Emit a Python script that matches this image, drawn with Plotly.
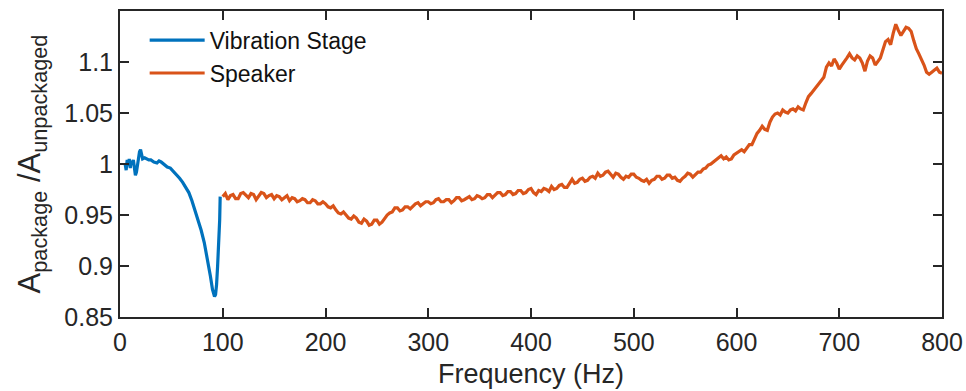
import plotly.graph_objects as go

# ---- data ----
vib_freq = [5, 6, 7, 8, 9, 10, 11, 12, 13, 14, 15, 16, 17, 18, 19, 20, 21, 22, 24, 26, 28, 30,
            33, 36, 38, 40, 43, 46, 49, 52, 55, 58, 61, 64, 67, 70, 73, 76, 79, 82, 84, 86,
            88, 90, 91, 92, 93, 94, 95, 96, 97, 97.5]
vib_ratio = [1.000, 0.994, 1.004, 0.998, 1.005, 0.996, 1.003, 1.001, 1.004, 0.995, 0.989, 0.992,
             1.000, 1.006, 1.012, 1.014, 1.008, 1.005, 1.006, 1.005, 1.004, 1.004,
             1.002, 1.001, 1.003, 1.002, 0.999, 0.997, 0.996, 0.993, 0.990, 0.986, 0.982,
             0.977, 0.972, 0.964, 0.955, 0.945, 0.935, 0.923, 0.913, 0.903,
             0.890, 0.877, 0.872, 0.870, 0.872, 0.882, 0.900, 0.920, 0.945, 0.968]

spk_freq_start = 100.0
spk_freq_step = 2.5
spk_ratio = [
    0.968, 0.971, 0.965, 0.969, 0.970, 0.966, 0.966, 0.971, 0.972, 0.969,   # 100-122.5
    0.967, 0.971, 0.970, 0.965, 0.968, 0.972, 0.971, 0.967, 0.969, 0.970,   # 125-147.5
    0.966, 0.969, 0.968, 0.965, 0.967, 0.969, 0.964, 0.967, 0.966, 0.963,   # 150-172.5
    0.964, 0.966, 0.965, 0.962, 0.962, 0.965, 0.964, 0.961, 0.961, 0.963,   # 175-197.5
    0.961, 0.958, 0.957, 0.959, 0.955, 0.952, 0.951, 0.953, 0.950, 0.947,   # 200-222.5
    0.946, 0.949, 0.947, 0.943, 0.942, 0.946, 0.944, 0.940, 0.941, 0.945,   # 225-247.5
    0.945, 0.941, 0.943, 0.947, 0.950, 0.952, 0.953, 0.957, 0.957, 0.954,   # 250-272.5
    0.955, 0.958, 0.958, 0.956, 0.959, 0.961, 0.962, 0.959, 0.961, 0.963,   # 275-297.5
    0.963, 0.961, 0.962, 0.965, 0.966, 0.963, 0.963, 0.965, 0.965, 0.962,   # 300-322.5
    0.964, 0.967, 0.967, 0.964, 0.965, 0.967, 0.968, 0.965, 0.966, 0.969,   # 325-347.5
    0.968, 0.966, 0.967, 0.970, 0.970, 0.967, 0.969, 0.972, 0.972, 0.969,   # 350-372.5
    0.970, 0.973, 0.973, 0.970, 0.971, 0.974, 0.974, 0.971, 0.972, 0.975,   # 375-397.5
    0.976, 0.972, 0.970, 0.974, 0.973, 0.976, 0.975, 0.973, 0.978, 0.975,   # 400-422.5
    0.976, 0.979, 0.980, 0.977, 0.977, 0.981, 0.985, 0.981, 0.982, 0.985,   # 425-447.5
    0.986, 0.983, 0.984, 0.987, 0.988, 0.986, 0.991, 0.988, 0.989, 0.992,   # 450-472.5
    0.993, 0.990, 0.987, 0.991, 0.990, 0.987, 0.985, 0.988, 0.987, 0.990,   # 475-497.5
    0.990, 0.987, 0.986, 0.984, 0.983, 0.985, 0.981, 0.984, 0.985, 0.988,   # 500-522.5
    0.988, 0.985, 0.986, 0.989, 0.989, 0.986, 0.987, 0.984, 0.983, 0.986,   # 525-547.5
    0.988, 0.991, 0.990, 0.987, 0.989, 0.992, 0.992, 0.995, 0.996, 0.999,   # 550-572.5
    1.000, 1.002, 1.003, 1.006, 1.008, 1.005, 1.007, 1.004, 1.005, 1.009,   # 575-597.5
    1.011, 1.013, 1.014, 1.012, 1.016, 1.019, 1.019, 1.024, 1.030, 1.033,   # 600-622.5
    1.037, 1.034, 1.033, 1.041, 1.046, 1.049, 1.050, 1.048, 1.053, 1.051,   # 625-647.5
    1.050, 1.053, 1.054, 1.052, 1.056, 1.054, 1.053, 1.060, 1.066, 1.069,   # 650-672.5
    1.072, 1.075, 1.078, 1.081, 1.085, 1.095, 1.099, 1.096, 1.103, 1.099,   # 675-697.5
    1.093, 1.097, 1.100, 1.104, 1.108, 1.104, 1.102, 1.106, 1.104, 1.099,   # 700-722.5
    1.091, 1.101, 1.106, 1.104, 1.097, 1.100, 1.104, 1.112, 1.120, 1.122,   # 725-747.5
    1.117, 1.128, 1.137, 1.131, 1.126, 1.130, 1.134, 1.133, 1.130, 1.121,   # 750-772.5
    1.113, 1.108, 1.103, 1.097, 1.090, 1.088, 1.090, 1.092, 1.094, 1.090,   # 775-797.5
    1.089,                                                                  # 800
]
spk_freq = [spk_freq_start + spk_freq_step * i for i in range(len(spk_ratio))]

x_ticks = [0, 100, 200, 300, 400, 500, 600, 700, 800]
y_ticks = [0.85, 0.9, 0.95, 1.0, 1.05, 1.1]
y_tick_text = ["0.85", "0.9", "0.95", "1", "1.05", "1.1"]

AX = "#262626"
FONT = "Liberation Sans, Arial, Helvetica, sans-serif"

fig = go.Figure()
fig.add_trace(go.Scatter(x=vib_freq, y=vib_ratio, mode="lines", name="Vibration Stage",
                         line=dict(color="#0072BD", width=3.2)))
fig.add_trace(go.Scatter(x=spk_freq, y=spk_ratio, mode="lines", name="Speaker",
                         line=dict(color="#D95319", width=3.2)))

fig.update_layout(
    width=966, height=391,
    margin=dict(l=120, r=24, t=11, b=74),
    paper_bgcolor="white", plot_bgcolor="white",
    font=dict(family=FONT, color=AX, size=25),
    showlegend=True,
    legend=dict(x=0.03, y=0.975, xanchor="left", yanchor="top",
                bgcolor="rgba(0,0,0,0)", borderwidth=0,
                font=dict(size=23, color="#111111"), itemwidth=55,
                tracegroupgap=0),
    xaxis=dict(range=[0, 800], tickvals=x_ticks, ticks="inside", ticklen=9, tickwidth=2,
               tickcolor=AX, showline=True, linecolor=AX, linewidth=2, mirror="ticks",
               showgrid=False, zeroline=False, tickfont=dict(size=25, color=AX),
               ticklabelstandoff=2, automargin=False,
               title=dict(text="Frequency (Hz)", font=dict(size=27, color=AX), standoff=9)),
    yaxis=dict(range=[0.85, 1.15], tickvals=y_ticks, ticktext=y_tick_text, ticks="inside",
               ticklen=9, tickwidth=2, tickcolor=AX, showline=True, linecolor=AX, linewidth=2,
               mirror="ticks", showgrid=False, zeroline=False, tickfont=dict(size=25, color=AX),
               automargin=False,
               title=dict(text="A<sub>package</sub> /A<sub>unpackaged</sub>",
                          font=dict(size=31, color=AX), standoff=14)),
)

fig.write_html("out.html")
